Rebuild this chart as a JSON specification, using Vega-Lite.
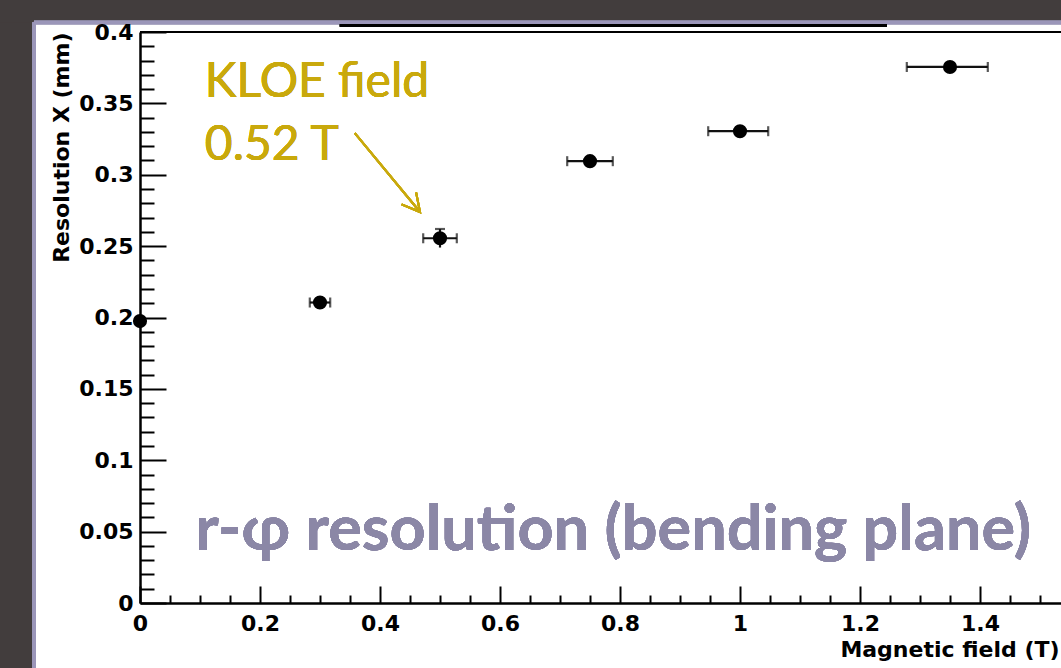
{
  "$schema": "https://vega.github.io/schema/vega-lite/v6.json",
  "width": 921,
  "height": 571,
  "autosize": {"type": "none"},
  "padding": {"left": 140, "top": 32, "right": 0, "bottom": 65},
  "background": "white",
  "config": {"view": {"stroke": null}, "font": "DejaVu Sans"},
  "resolve": {"axis": {"x": "independent", "y": "independent"}},
  "datasets": {
    "pts": [
      {"B": 0, "res": 0.1975, "Blo": 0, "Bhi": 0, "resLo": 0.1975, "resHi": 0.1975},
      {"B": 0.3, "res": 0.2105, "Blo": 0.283, "Bhi": 0.317, "resLo": 0.2105, "resHi": 0.2105},
      {"B": 0.5, "res": 0.2555, "Blo": 0.472, "Bhi": 0.528, "resLo": 0.249, "resHi": 0.262},
      {"B": 0.75, "res": 0.3095, "Blo": 0.712, "Bhi": 0.788, "resLo": 0.3095, "resHi": 0.3095},
      {"B": 1.0, "res": 0.3305, "Blo": 0.947, "Bhi": 1.047, "resLo": 0.3305, "resHi": 0.3305},
      {"B": 1.35, "res": 0.3755, "Blo": 1.278, "Bhi": 1.413, "resLo": 0.3755, "resHi": 0.3755}
    ]
  },
  "data": {"name": "pts"},
  "layer": [
    {
      "mark": {"type": "rect", "fill": "#423d3d"},
      "encoding": {
        "x": {"datum": -0.4, "type": "quantitative", "scale": {"domain": [0, 1.535], "nice": false, "zero": false}, "axis": null},
        "x2": {"datum": -0.1767},
        "y": {"datum": 0.6, "type": "quantitative", "scale": {"domain": [0, 0.4], "nice": false, "zero": false}, "axis": null},
        "y2": {"datum": -0.2}
      }
    },
    {
      "mark": {"type": "rect", "fill": "#423d3d"},
      "encoding": {
        "x": {"datum": -0.4, "type": "quantitative", "scale": {"domain": [0, 1.535], "nice": false, "zero": false}, "axis": null},
        "x2": {"datum": 1.9},
        "y": {"datum": 0.6, "type": "quantitative", "scale": {"domain": [0, 0.4], "nice": false, "zero": false}, "axis": null},
        "y2": {"datum": 0.4067}
      }
    },
    {
      "mark": {"type": "rule", "color": "#9b96b9", "strokeWidth": 3.5},
      "encoding": {
        "x": {"datum": -0.1767, "type": "quantitative", "scale": {"domain": [0, 1.535], "nice": false, "zero": false}, "axis": null},
        "y": {"datum": 0.4067, "type": "quantitative", "scale": {"domain": [0, 0.4], "nice": false, "zero": false}, "axis": null},
        "y2": {"datum": -0.2}
      }
    },
    {
      "mark": {"type": "rule", "color": "#9b96b9", "strokeWidth": 3.5},
      "encoding": {
        "x": {"datum": -0.1767, "type": "quantitative", "scale": {"domain": [0, 1.535], "nice": false, "zero": false}, "axis": null},
        "x2": {"datum": 1.9},
        "y": {"datum": 0.4067, "type": "quantitative", "scale": {"domain": [0, 0.4], "nice": false, "zero": false}, "axis": null}
      }
    },
    {
      "mark": {"type": "rule", "color": "black", "strokeWidth": 2.5},
      "encoding": {
        "x": {"datum": 0.333, "type": "quantitative", "scale": {"domain": [0, 1.535], "nice": false, "zero": false}, "axis": null},
        "x2": {"datum": 1.245},
        "y": {"datum": 0.4046, "type": "quantitative", "scale": {"domain": [0, 0.4], "nice": false, "zero": false}, "axis": null}
      }
    },
    {
      "mark": {"type": "rule", "color": "black", "strokeWidth": 2},
      "encoding": {
        "x": {"datum": 0, "type": "quantitative", "scale": {"domain": [0, 1.535], "nice": false, "zero": false}, "axis": null},
        "x2": {"datum": 1.7},
        "y": {"datum": 0.4, "type": "quantitative", "scale": {"domain": [0, 0.4], "nice": false, "zero": false}, "axis": null}
      }
    },
    {
      "mark": {"type": "rule", "color": "#111111", "strokeWidth": 2.2},
      "encoding": {
        "x": {"field": "Blo", "type": "quantitative", "scale": {"domain": [0, 1.535], "nice": false, "zero": false},
          "axis": {"orient": "bottom", "values": [0.05, 0.1, 0.15, 0.25, 0.3, 0.35, 0.45, 0.5, 0.55, 0.65, 0.7, 0.75, 0.85, 0.9, 0.95, 1.05, 1.1, 1.15, 1.25, 1.3, 1.35, 1.45, 1.5],
            "tickSize": -8, "tickWidth": 2, "tickColor": "black", "labels": false, "domain": false, "title": null, "grid": false, "zindex": 1}},
        "x2": {"field": "Bhi"},
        "y": {"field": "res", "type": "quantitative", "scale": {"domain": [0, 0.4], "nice": false, "zero": false},
          "axis": {"orient": "left", "values": [0.01, 0.02, 0.03, 0.04, 0.06, 0.07, 0.08, 0.09, 0.11, 0.12, 0.13, 0.14, 0.16, 0.17, 0.18, 0.19, 0.21, 0.22, 0.23, 0.24, 0.26, 0.27, 0.28, 0.29, 0.31, 0.32, 0.33, 0.34, 0.36, 0.37, 0.38, 0.39],
            "tickSize": -14, "tickWidth": 2, "tickColor": "black", "labels": false, "domain": false, "title": null, "grid": false, "zindex": 1}}
      }
    },
    {
      "mark": {"type": "rule", "color": "#111111", "strokeWidth": 2.2},
      "encoding": {
        "x": {"field": "B", "type": "quantitative", "scale": {"domain": [0, 1.535], "nice": false, "zero": false}, "axis": null},
        "y": {"field": "resLo", "type": "quantitative", "scale": {"domain": [0, 0.4], "nice": false, "zero": false}, "axis": null},
        "y2": {"field": "resHi"}
      }
    },
    {
      "mark": {"type": "tick", "orient": "vertical", "color": "#111111", "size": 10, "thickness": 2.2},
      "encoding": {
        "x": {"field": "Blo", "type": "quantitative", "scale": {"domain": [0, 1.535], "nice": false, "zero": false}, "axis": null},
        "y": {"field": "res", "type": "quantitative", "scale": {"domain": [0, 0.4], "nice": false, "zero": false}, "axis": null}
      }
    },
    {
      "mark": {"type": "tick", "orient": "vertical", "color": "#111111", "size": 10, "thickness": 2.2},
      "encoding": {
        "x": {"field": "Bhi", "type": "quantitative", "scale": {"domain": [0, 1.535], "nice": false, "zero": false}, "axis": null},
        "y": {"field": "res", "type": "quantitative", "scale": {"domain": [0, 0.4], "nice": false, "zero": false}, "axis": null}
      }
    },
    {
      "mark": {"type": "tick", "orient": "horizontal", "color": "#111111", "size": 10, "thickness": 2.2},
      "encoding": {
        "x": {"field": "B", "type": "quantitative", "scale": {"domain": [0, 1.535], "nice": false, "zero": false}, "axis": null},
        "y": {"field": "resHi", "type": "quantitative", "scale": {"domain": [0, 0.4], "nice": false, "zero": false}, "axis": null}
      }
    },
    {
      "mark": {"type": "point", "shape": "circle", "filled": true, "color": "black", "opacity": 1, "size": 200},
      "encoding": {
        "x": {"field": "B", "type": "quantitative", "scale": {"domain": [0, 1.535], "nice": false, "zero": false},
          "axis": {"orient": "bottom", "values": [0, 0.2, 0.4, 0.6, 0.8, 1, 1.2, 1.4], "format": "~g",
            "tickSize": -17, "tickWidth": 2, "tickColor": "black", "domainColor": "black", "domainWidth": 2.5,
            "labelFont": "DejaVu Sans", "labelFontWeight": "bold", "labelFontSize": 22, "labelColor": "black",
            "labelPadding": 27, "labelFlush": false, "labelOverlap": false, "grid": false, "zindex": 1,
            "title": "Magnetic field (T)", "titleFont": "DejaVu Sans", "titleFontWeight": "bold", "titleFontSize": 22,
            "titleColor": "black", "titleAnchor": "end", "titleAlign": "right", "titleBaseline": "alphabetic",
            "titleX": 919, "titleY": 53}},
        "y": {"field": "res", "type": "quantitative", "scale": {"domain": [0, 0.4], "nice": false, "zero": false},
          "axis": {"orient": "left", "values": [0, 0.05, 0.1, 0.15, 0.2, 0.25, 0.3, 0.35, 0.4], "format": "~g",
            "tickSize": -26, "tickWidth": 2, "tickColor": "black", "domainColor": "black", "domainWidth": 2.5,
            "labelFont": "DejaVu Sans", "labelFontWeight": "bold", "labelFontSize": 22, "labelColor": "black",
            "labelPadding": 33, "labelFlush": false, "labelOverlap": false, "grid": false, "zindex": 1,
            "title": "Resolution X (mm)", "titleFont": "DejaVu Sans", "titleFontWeight": "bold", "titleFontSize": 22,
            "titleColor": "black", "titleAngle": -90, "titleAnchor": "end", "titleAlign": "right", "titleBaseline": "alphabetic",
            "titleX": -72, "titleY": 0}}
      }
    },
    {
      "mark": {"type": "text", "text": "KLOE field", "font": "Lato", "fontSize": 48, "color": "#c9a90c", "align": "left", "baseline": "alphabetic"},
      "encoding": {
        "x": {"datum": 0.108, "type": "quantitative", "scale": {"domain": [0, 1.535], "nice": false, "zero": false}, "axis": null},
        "y": {"datum": 0.3545, "type": "quantitative", "scale": {"domain": [0, 0.4], "nice": false, "zero": false}, "axis": null}
      }
    },
    {
      "mark": {"type": "text", "text": "0.52 T", "font": "Lato", "fontSize": 48, "color": "#c9a90c", "align": "left", "baseline": "alphabetic"},
      "encoding": {
        "x": {"datum": 0.108, "type": "quantitative", "scale": {"domain": [0, 1.535], "nice": false, "zero": false}, "axis": null},
        "y": {"datum": 0.3103, "type": "quantitative", "scale": {"domain": [0, 0.4], "nice": false, "zero": false}, "axis": null}
      }
    },
    {
      "mark": {"type": "rule", "color": "#c9a90c", "strokeWidth": 2},
      "encoding": {
        "x": {"datum": 0.358, "type": "quantitative", "scale": {"domain": [0, 1.535], "nice": false, "zero": false}, "axis": null},
        "x2": {"datum": 0.4667},
        "y": {"datum": 0.3292, "type": "quantitative", "scale": {"domain": [0, 0.4], "nice": false, "zero": false}, "axis": null},
        "y2": {"datum": 0.2739}
      }
    },
    {
      "mark": {"type": "point", "shape": "M-0.88,-0.47L0,0L-0.88,0.47", "filled": false, "stroke": "#c9a90c", "strokeWidth": 2, "size": 1600, "angle": 50.6, "opacity": 1},
      "encoding": {
        "x": {"datum": 0.4667, "type": "quantitative", "scale": {"domain": [0, 1.535], "nice": false, "zero": false}, "axis": null},
        "y": {"datum": 0.2739, "type": "quantitative", "scale": {"domain": [0, 0.4], "nice": false, "zero": false}, "axis": null}
      }
    },
    {
      "mark": {"type": "text", "text": "r-φ resolution (bending plane)", "font": "Lato", "fontWeight": "bold", "fontSize": 63, "color": "#8b87a6", "align": "left", "baseline": "alphabetic"},
      "encoding": {
        "x": {"datum": 0.092, "type": "quantitative", "scale": {"domain": [0, 1.535], "nice": false, "zero": false}, "axis": null},
        "y": {"datum": 0.0371, "type": "quantitative", "scale": {"domain": [0, 0.4], "nice": false, "zero": false}, "axis": null}
      }
    }
  ]
}
